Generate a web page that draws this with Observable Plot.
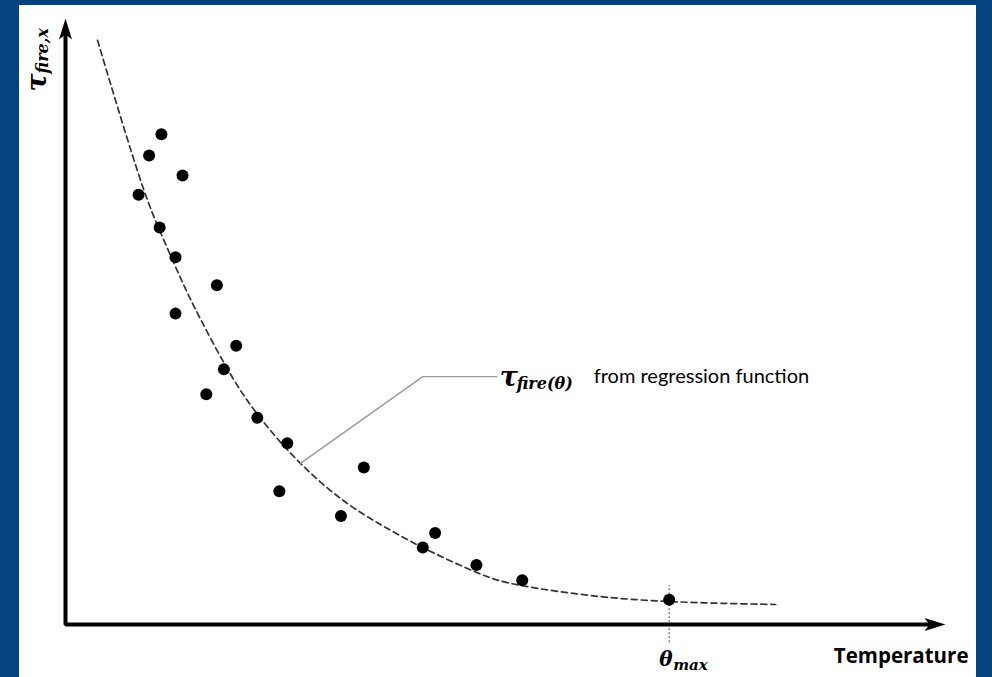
<!DOCTYPE html>
<html>
<head>
<meta charset="utf-8">
<script src="https://cdn.jsdelivr.net/npm/d3@7"></script>
<script src="https://cdn.jsdelivr.net/npm/@observablehq/plot@0.6"></script>
<style>
  html, body { margin: 0; padding: 0; }
  body { width: 992px; height: 677px; background: #03437F; position: relative; overflow: hidden; }
  #panel { position: absolute; left: 19px; top: 5px; width: 957px; height: 672px; background: #ffffff; }
</style>
</head>
<body>
<div id="panel"></div>
<script>
// Observed data points (temperature, fire resistance) in arbitrary units
const obsTemp = [10.9, 9.5, 13.3, 8.3, 10.7, 12.5, 17.2, 12.5, 19.4, 18.0, 16.0, 21.8, 25.2, 24.3, 33.9, 31.3, 42.0, 40.6, 46.7, 51.9, 68.6];
const obsTau  = [80.9, 77.4, 74.1, 70.9, 65.5, 60.6, 56.0, 51.3, 46.0, 42.1, 38.0, 34.1, 29.9, 22.0, 25.9, 17.9, 15.1, 12.7, 9.8, 7.3, 4.1];

// Regression curve
const regTemp = [3.64, 6.25, 8.86, 10.8, 13.1, 15.3, 18.0, 20.5, 23.3, 26.7, 31.25, 35.8, 40.6, 46.7, 51.9, 60.8, 68.6, 74.4, 80.7];
const regTau  = [96.4, 83.8, 71.9, 64.7, 57.1, 50.5, 43.2, 37.3, 32.0, 26.6, 20.8, 16.5, 12.7, 8.6, 6.4, 4.6, 3.8, 3.5, 3.3];

// Leader line for the annotation
const leaderTemp = [26.7, 40.6, 49.0];
const leaderTau  = [26.6, 40.9, 40.9];

// Axis extents and the theta_max marker
const xMax = 100, yMax = 100;
const axisLineEnd = [98.5, 98];
const thetaMax = 68.6;
const thetaTick = [-3.0, 6.4];

const points = obsTemp.map((t, i) => ({t, tau: obsTau[i]}));
const curvePts = regTemp.map((t, i) => ({t, tau: regTau[i]}));
const leader = leaderTemp.map((t, i) => ({t, tau: leaderTau[i]}));
const axisPath = [{t: 0, tau: axisLineEnd[1]}, {t: 0, tau: 0}, {t: axisLineEnd[0], tau: 0}];

const headUp = { draw(ctx) { ctx.moveTo(0, 0); ctx.lineTo(6.5, 21); ctx.lineTo(0, 16); ctx.lineTo(-6.5, 21); ctx.closePath(); } };
const headRight = { draw(ctx) { ctx.moveTo(0, 0); ctx.lineTo(-21, 6.5); ctx.lineTo(-16, 0); ctx.lineTo(-21, -6.5); ctx.closePath(); } };

const serif = "DejaVu Serif";
const sans = "Lato";

const chart = Plot.plot({
  width: 957,
  height: 672,
  marginLeft: 46,
  marginRight: 31,
  marginTop: 13,
  marginBottom: 53,
  x: {domain: [0, xMax], axis: null},
  y: {domain: [0, yMax], axis: null},
  style: {background: "white", overflow: "visible"},
  marks: [
    Plot.ruleX([thetaMax], {y1: thetaTick[0], y2: thetaTick[1], stroke: "#444", strokeWidth: 1, strokeDasharray: "2,2"}),
    Plot.line(curvePts, {x: "t", y: "tau", curve: "natural", stroke: "#333", strokeWidth: 1.7, strokeDasharray: "6,4"}),
    Plot.line(leader, {x: "t", y: "tau", stroke: "#999", strokeWidth: 1.4}),
    Plot.line(axisPath, {x: "t", y: "tau", stroke: "black", strokeWidth: 4, strokeLinejoin: "miter", strokeLinecap: "square"}),
    Plot.dot([{t: 0, tau: yMax}], {x: "t", y: "tau", symbol: headUp, fill: "black", stroke: "none"}),
    Plot.dot([{t: xMax, tau: 0}], {x: "t", y: "tau", symbol: headRight, fill: "black", stroke: "none"}),
    Plot.dot(points, {x: "t", y: "tau", r: 6, fill: "black", stroke: "none"}),
    // annotation label
    Plot.text([leader[2]], {x: "t", y: "tau", text: () => "τ", dx: 3, dy: 9, textAnchor: "start", lineAnchor: "bottom", fontFamily: serif, fontStyle: "italic", fontWeight: "bold", fontSize: 27, fill: "black"}),
    Plot.text([leader[2]], {x: "t", y: "tau", text: () => "fire(θ)", dx: 20, dy: 12, textAnchor: "start", lineAnchor: "bottom", fontFamily: serif, fontStyle: "italic", fontWeight: "bold", fontSize: 16, fill: "black"}),
    Plot.text([leader[2]], {x: "t", y: "tau", text: () => "from regression function", dx: 97, dy: 6, textAnchor: "start", lineAnchor: "bottom", fontFamily: sans, fontSize: 20, fill: "black"}),
    // theta max label
    Plot.text([{t: thetaMax, tau: 0}], {x: "t", y: "tau", text: () => "θ", dx: -10, dy: 41, textAnchor: "start", lineAnchor: "bottom", fontFamily: serif, fontStyle: "italic", fontWeight: "bold", fontSize: 20, fill: "black"}),
    Plot.text([{t: thetaMax, tau: 0}], {x: "t", y: "tau", text: () => "max", dx: 4, dy: 45, textAnchor: "start", lineAnchor: "bottom", fontFamily: serif, fontStyle: "italic", fontWeight: "bold", fontSize: 15, fill: "black"}),
    // x axis label
    Plot.text(["Temperature"], {frameAnchor: "bottom-right", dx: 23, dy: 38, textAnchor: "end", lineAnchor: "bottom", fontFamily: "Open Sans", fontWeight: "bold", fontSize: 20.5, fill: "black"}),
    // y axis label
    Plot.text(["τ"], {frameAnchor: "top-left", dx: -20, dy: 73, rotate: -90, textAnchor: "start", lineAnchor: "bottom", fontFamily: serif, fontStyle: "italic", fontWeight: "bold", fontSize: 27, fill: "black"}),
    Plot.text(["fire,x"], {frameAnchor: "top-left", dx: -18, dy: 55, rotate: -90, textAnchor: "start", lineAnchor: "bottom", fontFamily: serif, fontStyle: "italic", fontWeight: "bold", fontSize: 16, fill: "black"})
  ]
});
document.getElementById("panel").appendChild(chart);
</script>
</body>
</html>
